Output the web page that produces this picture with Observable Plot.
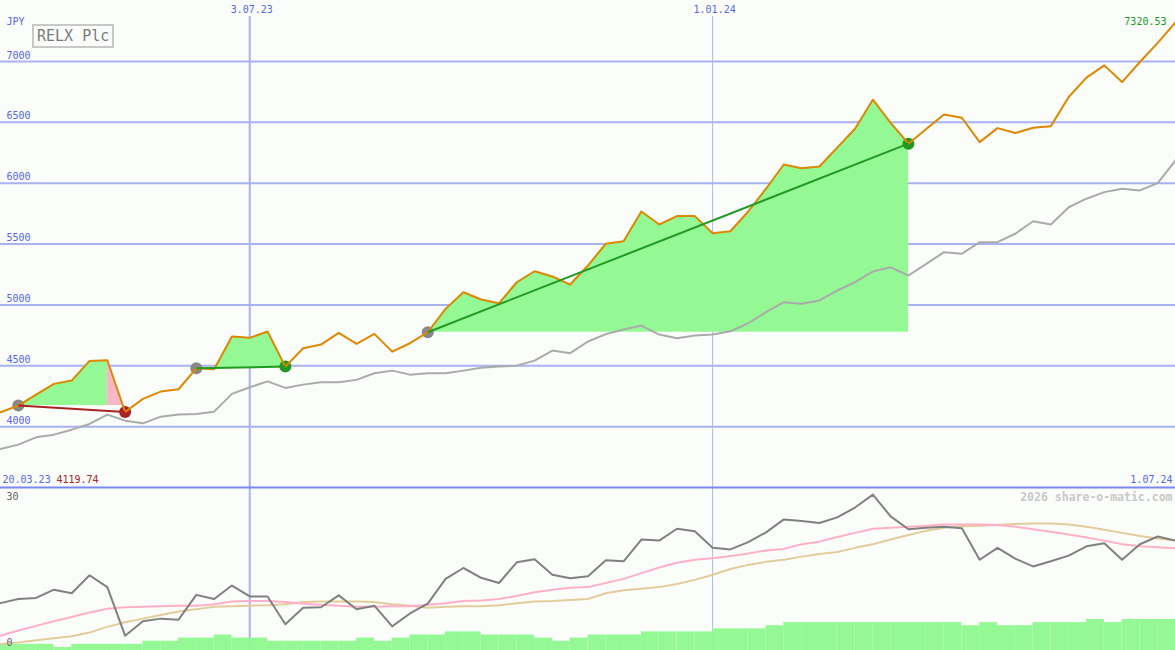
<!DOCTYPE html>
<html><head><meta charset="utf-8">
<script src="https://cdn.jsdelivr.net/npm/d3@7"></script>
<script src="https://cdn.jsdelivr.net/npm/@observablehq/plot@0.6"></script>
<style>
html,body{margin:0;padding:0;background:#fbfdfb;}
#chart{position:relative;width:1175px;height:650px;overflow:hidden;background:#fbfdfb;font-family:"DejaVu Sans Mono",monospace;}
#chart svg{position:absolute;left:0;top:0;}
#title{position:absolute;left:32px;top:24px;width:75px;height:20px;padding-left:3px;border:2px solid #c8c8c8;color:#7a7a7a;font:15px "DejaVu Sans Mono",monospace;line-height:21px;white-space:nowrap;}
</style></head><body><div id="chart"></div>
<script>
// ---- data (weekly, Mondays 27.03.23 .. 1.07.24) ----
const dates = d3.utcMonday.range(new Date(Date.UTC(2023,2,27)), new Date(Date.UTC(2024,6,2)));

const price = [4118,4173,4263,4351,4378,4540,4545,4119.74,4228,4288,4307,4479,4471,4740,4729,4781,4493,
  4644,4674,4770,4680,4762,4616,4685,4775,4967,5104,5044,5013,5186,5276,5233,5167,5323,5502,5523,5767,
  5660,5729,5729,5589,5605,5767,5954,6153,6123,6137,6292,6447,6685,6495,6324,6444,6564,6537,6337,6452,
  6411,6455,6468,6707,6866,6967,6830,6995,7152,7320.53];

const movingAvg = [3817,3852,3912,3934,3975,4022,4099,4049,4027,4082,4099,4104,4123,4269,4323,4372,4318,
  4345,4364,4364,4384,4438,4460,4427,4438,4438,4460,4483,4493,4501,4542,4625,4603,4699,4760,4797,4830,
  4756,4726,4748,4756,4783,4849,4941,5022,5009,5036,5118,5186,5274,5309,5241,5337,5433,5420,5515,5515,
  5584,5687,5660,5802,5872,5926,5954,5940,6000,6186];

const osc = [8.2,9.0,9.2,10.8,10.1,13.6,11.3,1.9,4.7,5.2,5.0,9.8,9.0,11.6,9.5,9.5,4.1,7.3,7.4,9.7,7.0,7.7,3.7,
  6.2,8.1,12.9,15.0,13.1,12.1,16.1,16.7,13.7,13.0,13.4,16.5,16.3,20.5,20.3,22.6,22.1,18.9,18.6,20.0,21.9,
  24.4,24.1,23.7,24.8,26.7,29.2,25.0,22.5,22.8,23.0,22.7,16.6,18.9,16.8,15.3,16.3,17.4,19.2,19.8,16.6,
  19.6,21.1,20.3];

const oscFast = [1.9,2.9,3.8,4.7,5.5,6.4,7.1,7.4,7.5,7.6,7.7,7.7,8.0,8.5,8.6,8.6,8.4,8.1,7.9,7.7,7.5,7.5,7.6,
  7.6,7.9,8.2,8.6,8.7,9.0,9.6,10.3,10.8,11.2,11.3,12.1,12.9,14.0,15.1,16.0,16.6,16.9,17.3,17.8,18.4,18.7,
  19.6,20.1,21.0,21.8,22.6,22.8,23.0,23.2,23.4,23.4,23.4,23.3,23.0,22.5,22.0,21.5,20.9,20.3,19.6,19.2,
  19.0,18.8];

const oscSlow = [0.3,0.6,1.0,1.4,1.8,2.5,3.6,4.5,5.2,5.9,6.6,7.0,7.5,7.6,7.7,7.8,8.0,8.4,8.5,8.5,8.5,8.4,8.0,
  7.7,7.3,7.5,7.6,7.6,7.8,8.2,8.5,8.6,8.8,9.0,10.1,10.7,11.0,11.3,11.9,12.7,13.7,14.8,15.6,16.2,16.6,17.2,
  17.7,18.1,18.9,19.6,20.5,21.4,22.2,22.8,23.1,23.2,23.3,23.5,23.6,23.6,23.4,23.0,22.4,21.8,21.2,20.7,20.3];

// volume per week (bar ending at week i, i = 1..66), relative units
const volume = [2,2,2,1,2,2,2,2,3,3,4,4,5,4,4,3,3,3,3,3,4,3,4,5,5,6,6,5,5,5,4,3,4,5,5,5,6,6,6,6,7,7,7,
  8,9,9,9,9,9,9,9,9,9,9,8,9,8,8,9,9,9,10,9,10,10,10];

const tradeEntry = [1, 11, 24];
const tradeExit  = [7, 16, 51];

const gridValues = [4000,4500,5000,5500,6000,6500,7000];
const topDateLabels = ["3.07.23","1.01.24"];
const topDateValues = [new Date(Date.UTC(2023,6,3)), new Date(Date.UTC(2024,0,1))];

// ---- colours ----
const C = {grid:"#a8b2f0", sep:"#7b86ee", axisText:"#5566ee", price:"#dd8800", ma:"#aaaaaa",
  win:"#229922", loss:"#aa2222", entry:"#888888", fill:"#94f894", drawdown:"#f9b8c8",
  osc:"#808080", fast:"#ffb0c8", slow:"#e2cc9c", vol:"#94f894"};

const rows = dates.map((d,i) => ({date:d, price:price[i], ma:movingAvg[i], osc:osc[i], fast:oscFast[i], slow:oscSlow[i]}));
const volRows = volume.map((v,k) => ({x1:dates[k], x2:dates[k+1], v}));
const trades = tradeEntry.map((e,k) => {
  const x = tradeExit[k];
  const win = price[x] >= price[e];
  return {e, x, entryDate:dates[e], entryPrice:price[e], exitDate:dates[x], exitPrice:price[x], win, color: win ? C.win : C.loss};
});
const fills = [];
for (const t of trades) {
  if (t.win) fills.push({from:t.e, to:t.x, base:t.entryPrice, color:C.fill});
  else {
    let pk = t.e; for (let i=t.e;i<=t.x;i++) if (price[i] >= price[pk]) pk = i;
    fills.push({from:t.e, to:pk, base:t.entryPrice, color:C.fill});
    fills.push({from:pk, to:t.x, base:t.entryPrice, color:C.drawdown});
  }
}

const W = 1175, H = 650;
const xDomain = [dates[0], dates[dates.length-1]];
const font = {background:"transparent", fontFamily:"DejaVu Sans Mono, monospace", fontSize:"10px", overflow:"visible"};
const chart = document.getElementById("chart");

// vertical date rules (span both panels)
chart.appendChild(Plot.plot({
  width:W, height:H, marginTop:16, marginBottom:0, marginLeft:0, marginRight:0, style:font,
  x:{type:"utc", domain:xDomain, axis:null}, y:{axis:null},
  marks:[
    Plot.ruleX([topDateValues[0]], {stroke:C.grid, strokeWidth:2}),
    Plot.ruleX([topDateValues[1]], {stroke:"#b0b8e8", strokeWidth:1})
  ]
}));

// upper price panel
const lastIdx = price.length - 1;
const losing = trades.find(t => !t.win);
chart.appendChild(Plot.plot({
  width:W, height:H, marginTop:0, marginBottom:163, marginLeft:0, marginRight:0, style:font,
  x:{type:"utc", domain:xDomain, axis:null},
  y:{domain:[3500,7500], axis:null},
  color:{type:"identity"},
  marks:[
    Plot.ruleY(gridValues, {stroke:C.grid, strokeWidth:2}),
    Plot.ruleY([3500], {stroke:C.sep, strokeWidth:2}),
    ...fills.map(f => Plot.areaY(rows.slice(f.from, f.to+1), {x:"date", y1:() => f.base, y2:"price", fill:f.color})),
    Plot.lineY(rows, {x:"date", y:"ma", stroke:C.ma, strokeWidth:2}),
    Plot.dot(trades, {x:"entryDate", y:"entryPrice", r:6, fill:C.entry}),
    Plot.dot(trades, {x:"exitDate", y:"exitPrice", r:6, fill:"color"}),
    Plot.lineY(rows, {x:"date", y:"price", stroke:C.price, strokeWidth:2}),
    Plot.link(trades, {x1:"entryDate", y1:"entryPrice", x2:"exitDate", y2:"exitPrice", stroke:"color", strokeWidth:2}),
    Plot.text(gridValues, {y:d=>d, text:d=>String(d), frameAnchor:"left", textAnchor:"start", lineAnchor:"middle", dx:6, dy:-6, fill:C.axisText}),
    Plot.text(["JPY"], {frameAnchor:"top-left", textAnchor:"start", lineAnchor:"middle", dx:6, dy:21, fill:C.axisText}),
    Plot.text(topDateLabels, {x:(d,i)=>topDateValues[i], frameAnchor:"top", lineAnchor:"middle", textAnchor:"middle", dx:2, dy:9.5, fill:C.axisText}),
    Plot.text([price[lastIdx].toFixed(2)], {frameAnchor:"top-right", textAnchor:"end", lineAnchor:"middle", dx:-9, dy:21, fill:C.win}),
    Plot.text(["20.03.23"], {frameAnchor:"bottom-left", textAnchor:"start", lineAnchor:"middle", dx:2, dy:-8, fill:C.axisText}),
    Plot.text([losing.exitPrice.toFixed(2)], {frameAnchor:"bottom-left", textAnchor:"start", lineAnchor:"middle", dx:56, dy:-8, fill:C.loss}),
    Plot.text(["1.07.24"], {frameAnchor:"bottom-right", textAnchor:"end", lineAnchor:"middle", dx:-3, dy:-8, fill:C.axisText})
  ]
}));

// volume bars (lower panel, own scale)
chart.appendChild(Plot.plot({
  width:W, height:H, marginTop:495, marginBottom:0, marginLeft:0, marginRight:0, style:font,
  x:{type:"utc", domain:xDomain, axis:null},
  y:{domain:[0,50], axis:null},
  marks:[ Plot.rectY(volRows, {x1:"x1", x2:"x2", y:"v", fill:C.vol}) ]
}));

// lower indicator panel
chart.appendChild(Plot.plot({
  width:W, height:H, marginTop:490, marginBottom:5, marginLeft:0, marginRight:0, style:font,
  x:{type:"utc", domain:xDomain, axis:null},
  y:{domain:[0,30], axis:null},
  marks:[
    Plot.lineY(rows, {x:"date", y:"slow", stroke:C.slow, strokeWidth:2}),
    Plot.lineY(rows, {x:"date", y:"fast", stroke:C.fast, strokeWidth:2}),
    Plot.lineY(rows, {x:"date", y:"osc", stroke:C.osc, strokeWidth:2}),
    Plot.text(["30"], {frameAnchor:"top-left", textAnchor:"start", lineAnchor:"middle", dx:6, dy:6, fill:"#666666"}),
    Plot.text(["0"], {frameAnchor:"bottom-left", textAnchor:"start", lineAnchor:"middle", dx:6, dy:-3, fill:"#666666"}),
    Plot.text(["2026 share-o-matic.com"], {frameAnchor:"top-right", textAnchor:"end", lineAnchor:"middle", dx:-3, dy:6.5, fill:"#c8c8c8", fontWeight:"bold", fontSize:11.5})
  ]
}));

// title box
const title = document.createElement("div");
title.id = "title";
title.textContent = "RELX Plc";
chart.appendChild(title);
</script></body></html>
